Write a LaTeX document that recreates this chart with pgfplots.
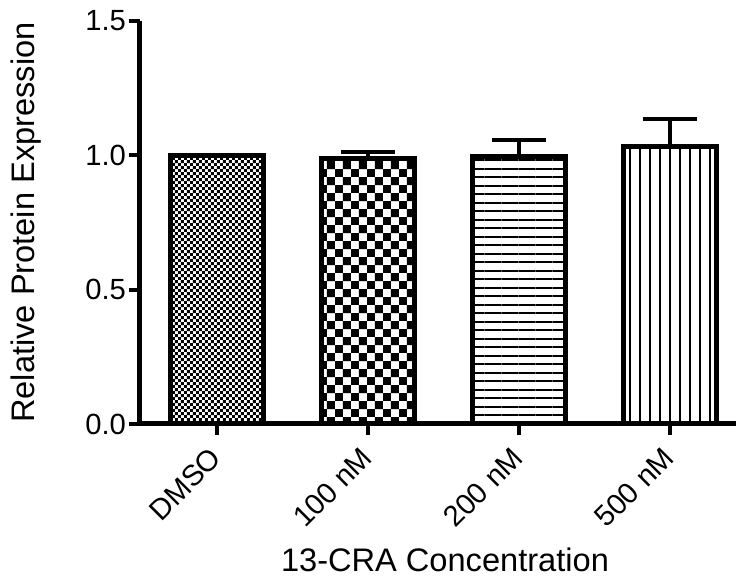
\documentclass[border=0pt]{standalone}
\usepackage{fontspec}
\setmainfont{Liberation Sans}
\usepackage{pgfplots}
\pgfplotsset{compat=1.18}
\usetikzlibrary{patterns}

% patterns, sizes (1px = 0.5pt)
\pgfdeclarepatternformonly{finecheck}{\pgfpointorigin}{\pgfpoint{3.2pt}{3.2pt}}{\pgfpoint{3.2pt}{3.2pt}}{%
  \pgfpathrectangle{\pgfpointorigin}{\pgfpoint{1.6pt}{1.6pt}}%
  \pgfpathrectangle{\pgfpoint{1.6pt}{1.6pt}}{\pgfpoint{1.6pt}{1.6pt}}%
  \pgfusepath{fill}}
\pgfdeclarepatternformonly{bigcheck}{\pgfpointorigin}{\pgfpoint{8pt}{8pt}}{\pgfpoint{8pt}{8pt}}{%
  \pgfpathrectangle{\pgfpointorigin}{\pgfpoint{4pt}{4pt}}%
  \pgfpathrectangle{\pgfpoint{4pt}{4pt}}{\pgfpoint{4pt}{4pt}}%
  \pgfusepath{fill}}
\pgfdeclarepatternformonly{hlines}{\pgfpoint{0pt}{-1pt}}{\pgfpoint{4.25pt}{4.25pt}}{\pgfpoint{4.25pt}{4.25pt}}{%
  \pgfpathrectangle{\pgfpoint{0pt}{-0.5pt}}{\pgfpoint{4.25pt}{1pt}}%
  \pgfusepath{fill}}
\pgfdeclarepatternformonly{vlines}{\pgfpoint{-1pt}{0pt}}{\pgfpoint{5pt}{5pt}}{\pgfpoint{5pt}{5pt}}{%
  \pgfpathrectangle{\pgfpoint{-0.6pt}{0pt}}{\pgfpoint{1.2pt}{5pt}}%
  \pgfusepath{fill}}

\begin{document}
\begin{tikzpicture}
\begin{axis}[
  at={(0,0)}, anchor=south west,
  scale only axis,
  width=298pt, height=201.5pt,
  xmin=-0.51, xmax=3.44,
  ymin=0, ymax=1.5,
  axis lines*=left,
  axis line style={line width=2.5pt},
  ybar, bar width=0.617, bar shift=0pt,
  xtick={0,1,2,3},
  xticklabels={DMSO,100 nM,200 nM,500 nM},
  ytick={0,0.5,1,1.5},
  tick align=outside,
  major tick length=5.5pt,
  tick style={line width=2pt, black},
  every tick label/.append style={font=\fontsize{14.6}{17}\selectfont},
  /pgf/number format/assume math mode=true,
  yticklabel style={xshift=2pt, /pgf/number format/.cd, fixed, fixed zerofill, precision=1},
  xticklabel style={xshift=2pt, yshift=-6.5pt, rotate=45, anchor=east},
  xlabel={13-CRA Concentration},
  ylabel={Relative Protein Expression},
  label style={font=\fontsize{16.3}{19}\selectfont},
  xlabel style={at={(axis description cs:0.5,0)}, anchor=south, xshift=3.5pt, yshift=-77.5pt},
  ylabel style={at={(axis description cs:-0.191,0.5)}, anchor=center},
  clip=false,
  error bars/y dir=plus,
  error bars/y explicit,
  error bars/error bar style={line width=2pt, black},
  error bars/error mark options={rotate=90, mark size=13.5pt, line width=2pt, black},
]
\addplot[draw=black, line width=2.5pt, pattern=finecheck, pattern color=black]
  coordinates {(0,1.0)};
\addplot[draw=black, line width=2.5pt, pattern=bigcheck, pattern color=black]
  coordinates {(1,0.99) +- (0,0.022)};
\addplot[draw=black, line width=2.5pt, pattern=hlines, pattern color=black]
  coordinates {(2,0.996) +- (0,0.06)};
\addplot[draw=black, line width=2.5pt, pattern=vlines, pattern color=black]
  coordinates {(3,1.034) +- (0,0.1)};
\end{axis}
\pgfresetboundingbox
\path (-70pt,-76.5pt) rectangle (298pt,212pt);
\end{tikzpicture}
\end{document}
